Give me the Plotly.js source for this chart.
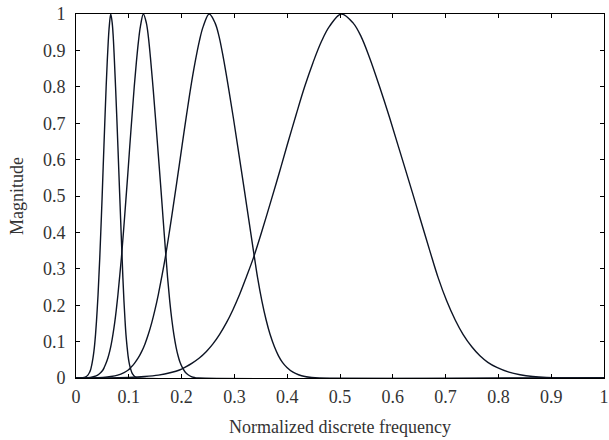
<!DOCTYPE html>
<html>
<head>
<meta charset="utf-8">
<script src="https://cdn.plot.ly/plotly-3.0.1.min.js"></script>
<style>html,body{margin:0;padding:0;background:#fff;}#chart{width:609px;height:440px;}</style>
</head>
<body>
<div id="chart"></div>
<script>
// magnitude samples shared by the four bands
var magnitude = [0, 0, 0.0015, 0.004, 0.008, 0.015, 0.022, 0.030, 0.041, 0.055, 0.073, 0.093, 0.12, 0.152, 0.187, 0.23, 0.277, 0.33, 0.403, 0.49, 0.564, 0.64, 0.724, 0.80, 0.867, 0.925, 0.966, 1.0, 0.975, 0.938, 0.88, 0.80, 0.715, 0.615, 0.51, 0.437, 0.35, 0.275, 0.212, 0.16, 0.12, 0.085, 0.061, 0.043, 0.029, 0.016, 0.009, 0.004, 0.0012, 0, 0];

// normalized frequency positions of each band
var band1Freq = [0, 0.0105, 0.0155, 0.0193, 0.0225, 0.0255, 0.0275, 0.0289, 0.0305, 0.0322, 0.0339, 0.0354, 0.037, 0.0386, 0.0401, 0.0418, 0.0433, 0.045, 0.047, 0.0493, 0.0511, 0.053, 0.0551, 0.0571, 0.0591, 0.0611, 0.063, 0.0658, 0.0686, 0.0705, 0.0725, 0.0749, 0.0773, 0.0799, 0.0826, 0.0845, 0.0868, 0.0888, 0.0908, 0.0928, 0.0946, 0.0968, 0.0986, 0.1005, 0.1026, 0.1055, 0.1081, 0.1111, 0.1144, 0.118, 1.0];
var band2Freq = [0, 0.017, 0.027, 0.0345, 0.041, 0.047, 0.051, 0.0538, 0.057, 0.0604, 0.0638, 0.0668, 0.07, 0.0733, 0.0763, 0.0795, 0.0826, 0.086, 0.09, 0.0945, 0.0983, 0.102, 0.1063, 0.1103, 0.1143, 0.1183, 0.122, 0.1276, 0.1333, 0.137, 0.141, 0.1458, 0.1505, 0.1558, 0.1613, 0.165, 0.1695, 0.1735, 0.1775, 0.1815, 0.1853, 0.1895, 0.1933, 0.197, 0.2013, 0.207, 0.2123, 0.2183, 0.2248, 0.232, 1.0];
var band3Freq = [0, 0.031, 0.051, 0.066, 0.079, 0.091, 0.099, 0.1045, 0.111, 0.1178, 0.1245, 0.1305, 0.137, 0.1435, 0.1495, 0.156, 0.1623, 0.169, 0.177, 0.186, 0.1935, 0.201, 0.2095, 0.2175, 0.2255, 0.2335, 0.241, 0.2523, 0.2635, 0.271, 0.279, 0.2885, 0.298, 0.3085, 0.3195, 0.327, 0.336, 0.344, 0.352, 0.36, 0.3675, 0.376, 0.3835, 0.391, 0.3995, 0.411, 0.4215, 0.4335, 0.4465, 0.461, 1.0];
var band4Freq = [0, 0.06, 0.10, 0.13, 0.156, 0.18, 0.196, 0.207, 0.22, 0.2336, 0.247, 0.259, 0.272, 0.285, 0.297, 0.31, 0.3225, 0.336, 0.352, 0.37, 0.385, 0.40, 0.417, 0.433, 0.449, 0.465, 0.48, 0.5025, 0.525, 0.54, 0.556, 0.575, 0.594, 0.615, 0.637, 0.652, 0.67, 0.686, 0.702, 0.718, 0.733, 0.75, 0.765, 0.78, 0.797, 0.82, 0.841, 0.865, 0.891, 0.92, 1.0];

var xTickVals = [0, 0.1, 0.2, 0.3, 0.4, 0.5, 0.6, 0.7, 0.8, 0.9, 1];
var xTickText = ['0', '0.1', '0.2', '0.3', '0.4', '0.5', '0.6', '0.7', '0.8', '0.9', '1'];
var yTickVals = [0, 0.1, 0.2, 0.3, 0.4, 0.5, 0.6, 0.7, 0.8, 0.9, 1];
var yTickText = ['0', '0.1', '0.2', '0.3', '0.4', '0.5', '0.6', '0.7', '0.8', '0.9', '1'];

var bands = [band1Freq, band2Freq, band3Freq, band4Freq];
var lineColor = '#0d1424';
var traces = bands.map(function (fx) {
  return {
    x: fx, y: magnitude, type: 'scatter', mode: 'lines',
    line: {color: lineColor, width: 1.4, shape: 'spline', smoothing: 1},
    hoverinfo: 'skip', showlegend: false, cliponaxis: true
  };
});

var fontFam = '"Liberation Serif", "DejaVu Serif", serif';
var axisCommon = {
  showgrid: false, zeroline: false, showline: true, linecolor: '#000', linewidth: 1,
  mirror: 'ticks', ticks: 'inside', ticklen: 4, tickwidth: 1, tickcolor: '#000',
  tickfont: {family: fontFam, size: 18, color: '#333'}
};

var layout = {
  width: 609, height: 440,
  margin: {l: 76, r: 5, t: 14, b: 62},
  paper_bgcolor: '#fff', plot_bgcolor: '#fff',
  font: {family: fontFam, color: '#333'},
  xaxis: Object.assign({}, axisCommon, {
    range: [0, 1], tickmode: 'array', tickvals: xTickVals, ticktext: xTickText,
    ticklabelstandoff: 2,
    title: {text: 'Normalized discrete frequency', font: {family: fontFam, size: 18, color: '#333'}, standoff: 14}
  }),
  yaxis: Object.assign({}, axisCommon, {
    range: [0, 1], tickmode: 'array', tickvals: yTickVals, ticktext: yTickText,
    ticklabelstandoff: 6,
    title: {text: 'Magnitude', font: {family: fontFam, size: 18, color: '#333'}, standoff: 14}
  })
};

Plotly.newPlot('chart', traces, layout, {staticPlot: true, displayModeBar: false});
</script>
</body>
</html>
